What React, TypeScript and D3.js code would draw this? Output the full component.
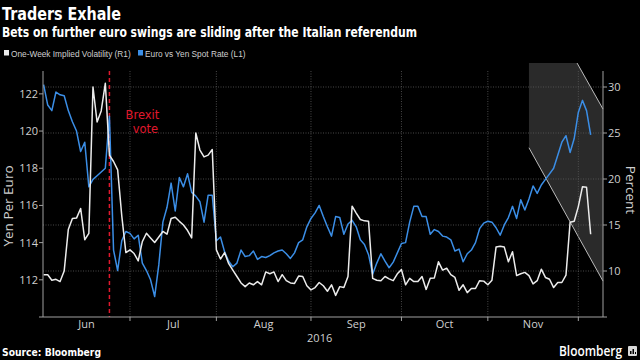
import React from 'react';
import * as d3 from 'd3';

// ---- Data (one value per trading day, starting 2016-06-02) ----
const START_DATE = '2016-06-02';
const eurJpy = [
  122.5, 121.4, 121.1, 122.1, 121.95, 121.9, 121.1, 120.5, 120.0, 118.9,
  119.4, 117.0, 117.4, 117.6, 117.8, 118.0, 120.8, 113.6, 112.5, 114.1,
  114.6, 114.5, 114.2, 114.4, 112.9, 112.5, 112.0, 111.1, 112.8, 115.1,
  115.9, 117.2, 115.7, 117.5, 117.0, 117.7, 116.7, 116.5, 116.2, 115.1,
  116.55, 116.55, 114.1, 114.3, 113.5, 113.0, 112.7, 112.9, 113.6, 113.25,
  113.3, 113.55, 113.1, 113.25, 113.2, 113.3, 113.45, 113.55, 113.6, 113.4,
  113.15, 113.45, 114.0, 114.15, 114.85, 115.3, 115.6, 116.0, 115.4, 114.85,
  114.35, 115.4, 115.35, 114.45, 115.0, 115.2, 114.85, 114.15, 113.9, 113.35,
  112.3, 112.9, 113.4, 113.0, 112.65, 112.95, 113.45, 113.95, 114.0, 115.1,
  115.95, 115.95, 115.4, 115.4, 114.45, 114.7, 114.6, 114.35, 114.3, 114.15,
  113.55, 113.65, 112.97, 113.4, 113.6, 114.0, 114.75, 115.05, 115.15, 115.1,
  114.8, 114.4, 114.95, 115.35, 115.95, 115.3, 116.3, 115.75, 116.35, 117.05,
  116.65, 117.1, 117.4, 117.7, 118.0, 118.7, 119.4, 119.75, 118.85, 119.6,
  121.0, 121.65, 121.1, 119.8,
];
const impliedVol = [
  9.6, 9.6, 9.0, 9.1, 8.85, 10.0, 14.5, 15.7, 15.75, 16.8,
  13.4, 14.1, 30.0, 26.2, 27.4, 30.4, 22.6, 21.9, 21.0, 16.0,
  12.0, 12.3, 11.9, 11.1, 13.2, 14.1, 13.6, 13.1, 13.7, 14.3,
  14.0, 15.7, 15.85, 15.4, 15.0, 14.4, 13.6, 25.0, 23.15, 22.4,
  22.6, 23.2, 12.3, 11.3, 12.0, 10.8, 10.1, 9.4, 8.7, 8.3,
  8.7, 8.5, 8.85, 8.5, 9.9, 9.7, 9.9, 8.85, 9.6, 8.95,
  8.7, 8.65, 9.45, 9.4, 8.4, 7.95, 8.2, 8.75, 8.4, 7.8,
  8.5, 7.35, 8.3, 8.2, 9.4, 17.05, 16.3, 15.6, 15.45, 15.4,
  9.2, 9.0, 8.95, 9.4, 9.15, 8.95, 9.7, 10.15, 8.5, 9.2,
  8.85, 8.85, 9.4, 8.0, 9.2, 9.25, 11.0, 10.1, 10.3, 9.6,
  9.3, 7.9, 8.5, 7.65, 8.1, 8.1, 8.95, 8.9, 8.5, 9.0,
  12.6, 12.7, 12.6, 11.0, 12.1, 9.5, 9.7, 9.85, 9.5, 8.6,
  8.95, 10.2, 9.3, 9.1, 8.2, 8.75, 8.75, 9.55, 15.3, 15.4,
  17.0, 19.15, 19.1, 14.0,
];
const leftTicks = [110, 112, 114, 116, 118, 120, 122];
const rightTicks = [5, 10, 15, 20, 25, 30];
const monthNames = ['Jun', 'Jul', 'Aug', 'Sep', 'Oct', 'Nov'];
const yearLabel = '2016';
const brexitDate = '2016-06-24';
// highlight wedge, in (trading-day index, percent) units
const highlightX = [118.0, 129.7, 136, 136, 118.0];
const highlightY = [32.6, 32.6, 27.6, 8.9, 23.4];

// ---- Layout ----
const W = 640;
const H = 360;
const L = 43;
const R = 603;
const T = 71;
const B = 317;

const BLUE = '#3b8ee6';
const WHITE = '#ececec';
const TEXT = '#cfcfcf';
const RED = '#e0182d';

function businessDays(start: string, n: number): Date[] {
  const out: Date[] = [];
  const d = new Date(start + 'T12:00:00');
  while (out.length < n) {
    const wd = d.getDay();
    if (wd !== 0 && wd !== 6) out.push(new Date(d));
    d.setDate(d.getDate() + 1);
  }
  return out;
}

export default function App() {
  const n = eurJpy.length;
  const dates = businessDays(START_DATE, n + 5);
  const x = d3.scaleLinear().domain([-0.15, n + 2]).range([L, R]);
  const yL = d3.scaleLinear().domain([110, 123.23]).range([B, T]);
  const yR = d3.scaleLinear().domain([5, 31.74]).range([B, T]);

  // month boundaries = first trading day of each new month
  const monthTicks: number[] = [];
  for (let i = 1; i < dates.length; i++) {
    if (dates[i].getMonth() !== dates[i - 1].getMonth()) monthTicks.push(i);
  }
  const tickXs = monthTicks.map((i) => x(i));
  const labelXs = monthNames.map((_, k) => {
    const a = k === 0 ? L : tickXs[k - 1];
    const b = tickXs[k];
    return (a + b) / 2;
  });

  const brexitIdx = dates.findIndex(
    (d) => d3.timeFormat('%Y-%m-%d')(d) === brexitDate
  );

  const lineL = d3
    .line<number>()
    .x((_, i) => x(i))
    .y((v) => yL(v));
  const lineR = d3
    .line<number>()
    .x((_, i) => x(i))
    .y((v) => yR(v));

  const wedge = highlightX.map((hx, i) => [x(hx), yR(highlightY[i])] as [number, number]);
  const wedgePath = 'M' + wedge.map((p) => p.join(',')).join('L') + 'Z';

  const font = "'DejaVu Sans', 'Open Sans', sans-serif";
  const tickFont = "'Open Sans', 'DejaVu Sans', sans-serif";
  const legendFont = "'Liberation Sans', Arial, sans-serif";

  return (
    <svg
      width={W}
      height={H}
      style={{ position: 'absolute', left: 0, top: 0, background: '#000' }}
    >
      <rect x={0} y={0} width={W} height={H} fill="#000" />

      {/* Title & subtitle */}
      <text x={2} y={20} fill="#fff" fontFamily={font} fontWeight="bold" fontSize={18}
        textLength={119} lengthAdjust="spacingAndGlyphs">Traders Exhale</text>
      <text x={2} y={36.5} fill="#fff" fontFamily={font} fontWeight="bold" fontSize={13.5}
        textLength={415} lengthAdjust="spacingAndGlyphs">
        Bets on further euro swings are sliding after the Italian referendum
      </text>

      {/* Legend */}
      <rect x={4} y={50} width={5} height={5.5} fill={WHITE} />
      <text x={11} y={56.5} fill={TEXT} fontFamily={legendFont} fontSize={8.3}>
        One-Week Implied Volatility (R1)
      </text>
      <rect x={138} y={50} width={5} height={5.5} fill={BLUE} />
      <text x={145} y={56.5} fill={TEXT} fontFamily={legendFont} fontSize={8.3}>
        Euro vs Yen Spot Rate (L1)
      </text>

      {/* Highlight wedge */}
      <path d={wedgePath} fill="#2a2a2a" />
      <line x1={wedge[1][0]} y1={wedge[1][1]} x2={wedge[2][0]} y2={wedge[2][1]} stroke="#bbb" strokeWidth={1} />
      <line x1={wedge[4][0]} y1={wedge[4][1]} x2={wedge[3][0]} y2={wedge[3][1]} stroke="#bbb" strokeWidth={1} />

      {/* Grid */}
      {rightTicks.filter((t) => t > 5).map((t) => (
        <line key={'hg' + t} x1={L} x2={R} y1={yR(t)} y2={yR(t)} stroke="#5a5a5a"
          strokeWidth={0.8} strokeDasharray="1,1.5" />
      ))}
      {tickXs.map((tx, i) => (
        <line key={'vg' + i} x1={tx} x2={tx} y1={T} y2={B} stroke="#5a5a5a"
          strokeWidth={0.8} strokeDasharray="1,1.5" />
      ))}

      {/* Brexit marker */}
      <line x1={x(brexitIdx)} x2={x(brexitIdx)} y1={T} y2={B} stroke={RED}
        strokeWidth={1.5} strokeDasharray="4,3" />
      <text x={x(brexitIdx) + 33} y={118.5} fill={RED} fontFamily={font} fontSize={11.5}
        textAnchor="middle">Brexit</text>
      <text x={x(brexitIdx) + 36} y={133} fill={RED} fontFamily={font} fontSize={11.5}
        textAnchor="middle">vote</text>

      {/* Series */}
      <path d={lineL(eurJpy) || ''} fill="none" stroke={BLUE} strokeWidth={1.5} strokeLinejoin="round" />
      <path d={lineR(impliedVol) || ''} fill="none" stroke={WHITE} strokeWidth={1.5} strokeLinejoin="round" />

      {/* Axes */}
      <line x1={L} x2={L} y1={T} y2={B} stroke="#a0a0a0" strokeWidth={1} />
      <line x1={R} x2={R} y1={T} y2={B} stroke="#a0a0a0" strokeWidth={1} />
      <line x1={L} x2={R} y1={B} y2={B} stroke="#a0a0a0" strokeWidth={1} />

      {leftTicks.map((t) => (
        <g key={'lt' + t}>
          <line x1={L - 4} x2={L} y1={yL(t)} y2={yL(t)} stroke="#a0a0a0" />
          {t !== 110 && (
            <text x={L - 5} y={yL(t) + 4} fill={TEXT} fontFamily={tickFont} fontSize={11}
              textAnchor="end">{t}</text>
          )}
        </g>
      ))}
      {rightTicks.map((t) => (
        <g key={'rt' + t}>
          <line x1={R} x2={R + 4} y1={yR(t)} y2={yR(t)} stroke="#a0a0a0" />
          {t !== 5 && (
            <text x={R + 5} y={yR(t) + 4} fill={TEXT} fontFamily={tickFont} fontSize={11}>{t}</text>
          )}
        </g>
      ))}
      {tickXs.map((tx, i) => (
        <line key={'xt' + i} x1={tx} x2={tx} y1={B} y2={B + 4} stroke="#a0a0a0" />
      ))}
      {monthNames.map((m, k) => (
        <text key={m} x={labelXs[k]} y={328} fill={TEXT} fontFamily={tickFont} fontSize={11}
          textAnchor="middle">{m}</text>
      ))}
      <text x={(tickXs[1] + tickXs[2]) / 2 + 56} y={342} fill={TEXT} fontFamily={tickFont}
        fontSize={11} textAnchor="middle">{yearLabel}</text>

      {/* Axis titles */}
      <text transform={`translate(13,${(T + B) / 2 + 12}) rotate(-90)`} fill={TEXT}
        fontFamily={tickFont} fontSize={13.5} textAnchor="middle">Yen Per Euro</text>
      <text transform={`translate(626,${(T + B) / 2 - 4}) rotate(90)`} fill={TEXT}
        fontFamily={tickFont} fontSize={13.5} textAnchor="middle">Percent</text>

      {/* Footer */}
      <text x={2} y={356} fill="#fff" fontFamily={font} fontWeight="bold" fontSize={10}
        textLength={99} lengthAdjust="spacingAndGlyphs">Source: Bloomberg</text>
      <text x={559} y={356} fill="#fff" fontFamily={tickFont} fontWeight={600} fontSize={15}
        textLength={63} lengthAdjust="spacingAndGlyphs">Bloomberg</text>
      <rect x={628} y={346} width={9} height={10} rx={1} fill="#d8d8d8" />
      <rect x={630} y={351} width={1.5} height={3} fill="#000" />
      <rect x={632.5} y={349} width={1.5} height={5} fill="#000" />
      <rect x={635} y={352} width={1} height={2} fill="#000" />
    </svg>
  );
}
